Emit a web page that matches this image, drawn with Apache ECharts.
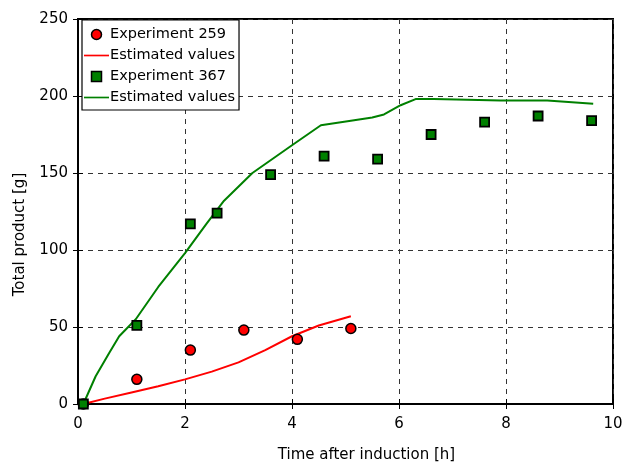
<!DOCTYPE html>
<html>
<head>
<meta charset="utf-8">
<script src="https://cdn.jsdelivr.net/npm/echarts@6/dist/echarts.min.js"></script>
<style>html,body{margin:0;padding:0;background:#fff}#c{width:626px;height:463px}</style>
</head>
<body>
<div id="c"></div>
<script>
var exp259 = [[0.1,0],[1.1,16],[2.1,35],[3.1,48],[4.1,42],[5.1,49]];
var est259 = [[0.1,0],[0.5,3.5],[1,7.5],[1.5,11.5],[2,16],[2.5,21],[3,27],[3.5,35],[4,44],[4.5,51],[5.1,57]];
var exp367 = [[0.1,0],[1.1,51],[2.1,117],[2.6,124],[3.6,149],[4.6,161],[5.6,159],[6.6,175],[7.6,183],[8.6,187],[9.6,184]];
var est367 = [[0.1,0],[0.33,18],[0.58,33],[0.77,44],[1.08,55],[1.5,76],[2,98],[2.4,117],[2.73,132],[3.26,150],[4,168],[4.54,181],[5.1,184],[5.5,186],[5.72,188],[6.03,194],[6.31,198],[6.65,198],[7.9,197],[8.77,197],[9.63,195]];
var xTicks = [0,2,4,6,8,10];
var yTicks = [0,50,100,150,200,250];

var FONT = 'DejaVu Sans';
var chart = echarts.init(document.getElementById('c'));
var split = {show:true,lineStyle:{color:'#333',type:[5,5],width:1}};
var lineIcon = 'path://M0,0L30,0L30,2L0,2Z';
chart.setOption({
  animation:false,
  grid:{left:78,right:13,top:19,bottom:59,outerBoundsMode:'none',containLabel:false,show:true,borderColor:'#000',borderWidth:2,backgroundColor:'#fff'},
  legend:{
    orient:'vertical',left:82,top:20,
    backgroundColor:'#fff',borderColor:'#000',borderWidth:1.2,borderRadius:0,
    padding:[7,4,5,2],itemGap:6,itemWidth:25,itemHeight:10,
    textStyle:{fontFamily:FONT,fontSize:14.5,color:'#000',padding:[0,0,0,-4]},
    formatter:function(n){return n.trim();},
    data:[
      {name:'Experiment 259',icon:'circle',itemStyle:{color:'#ff0000',borderColor:'#000',borderWidth:1.5}},
      {name:'Estimated values',icon:lineIcon,itemStyle:{color:'#ff0000',borderWidth:0}},
      {name:'Experiment 367',icon:'path://M0,0L10,0L10,10L0,10Z',itemStyle:{color:'#008000',borderColor:'#000',borderWidth:1.5}},
      {name:'Estimated values ',icon:lineIcon,itemStyle:{color:'#008000',borderWidth:0}}
    ]
  },
  xAxis:[{
    type:'value',min:0,max:10,interval:2,
    axisLine:{show:true,lineStyle:{color:'#000',width:2}},
    axisTick:{show:true,inside:true,length:5,lineStyle:{color:'#000'}},
    axisLabel:{fontFamily:FONT,fontSize:15,color:'#000',margin:13,formatter:function(v){return xTicks.indexOf(v)>=0?String(v):'';}},
    splitLine:split,
    name:'Time after induction [h]',nameLocation:'middle',nameGap:44,
    nameTextStyle:{fontFamily:FONT,fontSize:15,color:'#000',padding:[0,0,0,42]}
  },{
    type:'value',min:0,max:10,interval:2,position:'top',
    axisLine:{show:true,lineStyle:{color:'#000',width:2}},
    axisTick:{show:true,inside:true,length:5,lineStyle:{color:'#000'}},
    axisLabel:{show:false},splitLine:{show:false}
  }],
  yAxis:[{
    type:'value',min:0,max:250,interval:50,
    axisLine:{show:true,lineStyle:{color:'#000',width:2}},
    axisTick:{show:true,inside:true,length:5,lineStyle:{color:'#000'}},
    axisLabel:{fontFamily:FONT,fontSize:15,color:'#000',margin:10,formatter:function(v){return yTicks.indexOf(v)>=0?String(v):'';}},
    splitLine:split,
    name:'Total product [g]',nameLocation:'middle',nameGap:50,
    nameTextStyle:{fontFamily:FONT,fontSize:15,color:'#000',padding:[0,46,0,0]}
  },{
    type:'value',min:0,max:250,interval:50,position:'right',
    axisLine:{show:true,lineStyle:{color:'#000',width:2}},
    axisTick:{show:true,inside:true,length:5,lineStyle:{color:'#000'}},
    axisLabel:{show:false},splitLine:{show:false}
  }],
  series:[
    {name:'Estimated values',type:'line',data:est259,symbol:'none',lineStyle:{color:'#ff0000',width:2},itemStyle:{color:'#ff0000'},z:2},
    {name:'Estimated values ',type:'line',data:est367,symbol:'none',lineStyle:{color:'#008000',width:2},itemStyle:{color:'#008000'},z:2},
    {name:'Experiment 259',type:'scatter',data:exp259,symbol:'circle',symbolSize:10,itemStyle:{color:'#ff0000',borderColor:'#000',borderWidth:1.5,opacity:1},z:3},
    {name:'Experiment 367',type:'scatter',data:exp367,symbol:'rect',symbolSize:9,itemStyle:{color:'#008000',borderColor:'#000',borderWidth:1.8,opacity:1},z:3}
  ]
});
</script>
</body>
</html>
